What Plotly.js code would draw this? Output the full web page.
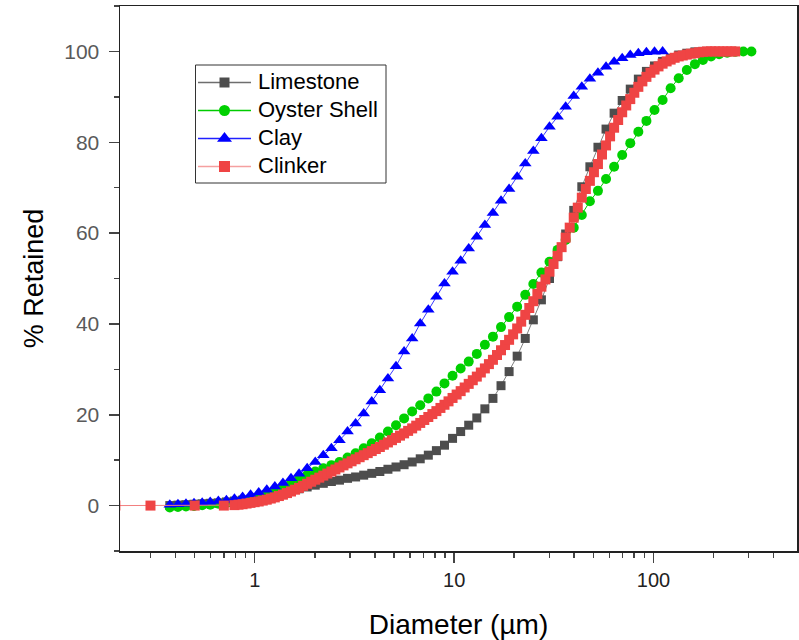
<!DOCTYPE html>
<html>
<head>
<meta charset="utf-8">
<script src="https://cdn.plot.ly/plotly-3.0.1.min.js"></script>
<style>
html,body{margin:0;padding:0;background:#fff;}
#chart{width:799px;height:640px;}
</style>
</head>
<body>
<div id="chart"></div>
<script>
// Shared diameter grid (µm)
var grid = [0.375,0.412,0.452,0.496,0.545,0.598,0.657,0.721,0.791,0.869,0.953,1.047,1.149,1.261,1.385,1.520,1.668,1.832,2.011,2.207,2.423,2.660,2.920,3.205,3.519,3.862,4.240,4.655,5.110,5.610,6.158,6.760,7.421,8.147,8.943,9.817,10.78,11.83,12.99,14.26,15.65,17.18,18.86,20.70,22.73,24.95,27.39,30.07,33.01,36.24,39.78,43.67,47.94,52.62,57.77,63.41,69.61,76.42,83.89,92.09,101.1,111.0,121.8,133.7,146.8,161.2,176.8,194.2,213.2,234.1,256.8,281.9,309.6];

var limestoneX = grid.slice(0, 68);
var limestoneY = [0.0,0.1,0.2,0.3,0.4,0.5,0.6,0.8,1.0,1.2,1.4,1.7,2.1,2.5,2.9,3.3,3.7,4.1,4.5,4.9,5.3,5.6,6.0,6.3,6.7,7.1,7.5,8.0,8.5,9.0,9.6,10.3,11.1,12.1,13.3,14.8,16.3,17.7,19.3,21.3,23.6,26.4,29.5,32.9,36.8,40.9,45.3,50.0,54.8,59.8,65.0,70.2,74.6,78.9,82.9,86.4,89.2,91.7,93.9,95.6,96.8,97.8,98.5,99.2,99.6,99.9,100,100];

var oysterX = grid.slice(0, 73);
var oysterY = [-0.4,-0.3,-0.2,-0.1,0.1,0.2,0.4,0.6,0.9,1.2,1.6,2.1,2.7,3.4,4.2,5.0,5.9,6.7,7.5,8.2,8.9,9.6,10.6,11.5,12.6,13.7,15.0,16.3,17.7,19.2,20.7,22.1,23.6,25.1,26.9,28.6,30.2,31.7,33.4,35.4,37.2,39.3,41.5,43.8,46.4,48.8,51.3,53.7,56.3,58.5,61.2,64.0,67.0,69.3,71.9,74.6,77.2,79.8,82.3,84.7,87.1,89.3,91.9,94.1,95.9,97.2,98.1,98.9,99.4,99.7,99.9,100,100];

var clayX = grid.slice(0, 62);
var clayY = [0.2,0.3,0.4,0.5,0.6,0.8,1.0,1.2,1.5,1.9,2.4,2.9,3.5,4.2,5.0,6.0,7.0,8.2,9.6,11.1,12.6,14.4,16.3,18.1,20.3,22.9,25.4,28.0,30.7,33.9,36.8,40.1,43.1,46.0,48.9,51.5,53.9,56.6,59.2,61.8,64.4,67.1,69.7,72.4,75.3,78.1,80.9,83.4,85.6,87.8,90.2,92.2,94.0,95.3,96.6,97.7,98.5,99.2,99.6,99.8,99.9,100];

// Clinker was measured on a finer grid
var clinkerX = [0.2,0.3,0.5,0.7,
  0.791,0.829,0.869,0.910,0.953,0.999,1.047,1.097,1.149,1.204,1.261,1.322,1.385,1.451,1.520,1.593,1.668,1.748,1.832,1.919,
  2.011,2.107,2.207,2.312,2.423,2.538,2.660,2.787,2.920,3.059,3.205,3.358,3.519,3.687,3.862,4.047,4.240,4.442,4.655,4.877,
  5.110,5.353,5.610,5.877,6.158,6.452,6.760,7.083,7.421,7.775,8.147,8.536,8.943,9.370,9.817,10.29,10.78,11.29,11.83,12.40,
  12.99,13.61,14.26,14.94,15.65,16.40,17.18,18.00,18.86,19.76,20.70,21.69,22.73,23.81,24.95,26.14,27.39,28.70,30.07,31.50,
  33.01,34.58,36.24,37.97,39.78,41.68,43.67,45.75,47.94,50.23,52.62,55.14,57.77,60.53,63.41,66.44,69.61,72.94,76.42,80.07,
  83.89,87.89,92.09,96.49,101.1,105.9,111.0,116.3,121.8,127.6,133.7,140.1,146.8,153.8,161.2,168.9,176.8,185.3,194.2,203.5,
  213.2,223.4,234.1,245.2,256.8];
var clinkerY = [0,0,0,0,
  0.1,0.2,0.3,0.45,0.6,0.75,0.9,1.1,1.3,1.55,1.8,2.1,2.4,2.75,3.1,3.5,3.9,4.35,4.8,5.25,
  5.7,6.15,6.6,7.05,7.5,7.95,8.4,8.85,9.3,9.75,10.2,10.65,11.1,11.55,12.0,12.45,12.9,13.4,13.9,14.4,
  14.9,15.4,15.9,16.45,17.0,17.6,18.2,18.85,19.5,20.15,20.8,21.5,22.2,22.95,23.7,24.45,25.2,26.0,26.8,27.6,
  28.4,29.3,30.2,31.15,32.1,33.15,34.2,35.35,36.5,37.7,39.0,40.5,42.0,43.5,45.0,46.6,48.2,49.8,51.5,53.2,
  55.0,56.9,59.0,61.2,63.4,65.6,67.8,69.7,71.5,73.4,75.2,77.3,79.3,81.3,83.2,84.9,86.6,88.1,89.5,90.9,
  92.2,93.4,94.4,95.3,96.0,96.7,97.3,97.8,98.2,98.6,98.9,99.1,99.3,99.5,99.6,99.8,99.9,100,100,100,
  100,100,100,100,100];

var seriesNames = ['Limestone','Oyster Shell','Clay','Clinker'];
var xTickVals = [1, 10, 100];
var xMinorVals = [0.3,0.4,0.5,0.6,0.7,0.8,0.9,2,3,4,5,6,7,8,9,20,30,40,50,60,70,80,90,200,300,400];

var fontFam = '"Liberation Sans", Arial, sans-serif';

var styles = [
  {line: {color: '#7f7f7f', width: 1}, marker: {symbol: 'square', size: 9, color: '#4d4d4d'}},
  {line: {color: '#00cc00', width: 1}, marker: {symbol: 'circle', size: 10, color: '#00d000'}},
  {line: {color: '#3a3aff', width: 1}, marker: {symbol: 'triangle-up', size: 11, color: '#0000ff'}},
  {line: {color: '#f27f7f', width: 1}, marker: {symbol: 'square', size: 10, color: '#ef4444'}}
];
var dataX = [limestoneX, oysterX, clayX, clinkerX];
var dataY = [limestoneY, oysterY, clayY, clinkerY];

var traces = [];
for (var i = 0; i < 4; i++) {
  traces.push({x: dataX[i], y: dataY[i], name: seriesNames[i], type: 'scatter', mode: 'lines+markers',
    line: styles[i].line, marker: styles[i].marker, showlegend: false, hoverinfo: 'skip'});
}

// Hand-built legend (pixel coordinates on a hidden overlay axis pair)
var legRows = [82.5, 110.5, 138.5, 166.5];
var legLine = [198, 251];
var legMark = 224.5;
var legText = 256;
var legBox = {x0: 195.5, x1: 386, y0: 65, y1: 183};
var legLineColors = ['#6e6e6e', '#00cc00', '#2020ff', '#f5a0a0'];
var legMarkSizes = [10, 11, 13, 11];
var annotations = [];
for (var j = 0; j < 4; j++) {
  traces.push({x: legLine, y: [legRows[j], legRows[j]],
    xaxis: 'x2', yaxis: 'y2', type: 'scatter', mode: 'lines', showlegend: false, hoverinfo: 'skip',
    line: {color: legLineColors[j], width: 1.3}});
  traces.push({x: [legMark], y: [legRows[j]],
    xaxis: 'x2', yaxis: 'y2', type: 'scatter', mode: 'markers', showlegend: false, hoverinfo: 'skip',
    marker: {symbol: styles[j].marker.symbol, color: styles[j].marker.color, size: legMarkSizes[j]}});
  annotations.push({xref: 'x2', yref: 'y2', x: legText, y: legRows[j] - 1, xanchor: 'left', yanchor: 'middle',
    text: seriesNames[j], showarrow: false, font: {family: fontFam, size: 22, color: '#000'}});
}

var layout = {
  width: 799, height: 640,
  margin: {l: 120, r: 2, t: 6, b: 89},
  paper_bgcolor: '#fff', plot_bgcolor: '#fff',
  font: {family: fontFam, color: '#000'},
  showlegend: false,
  annotations: annotations,
  shapes: [{type: 'rect', xref: 'x2', yref: 'y2', x0: legBox.x0, x1: legBox.x1, y0: legBox.y0, y1: legBox.y1,
            line: {color: '#333', width: 1}, fillcolor: '#fff', layer: 'below'}],
  xaxis: {
    type: 'log',
    range: [Math.log10(0.211), Math.log10(524)],
    tickmode: 'array', tickvals: xTickVals, ticktext: ['1','10','100'],
    ticks: 'outside', ticklen: 10, tickwidth: 1.5, tickcolor: '#444',
    minor: {tickmode: 'array', tickvals: xMinorVals, ticks: 'outside', ticklen: 5, tickwidth: 1.5, tickcolor: '#444', showgrid: false},
    showline: true, linecolor: '#222', linewidth: 1.5, mirror: true,
    showgrid: false, zeroline: false,
    tickfont: {family: fontFam, size: 20, color: '#222'},
    title: {text: 'Diameter (µm)', font: {family: fontFam, size: 28, color: '#000'}, standoff: 25},
    automargin: false
  },
  yaxis: {
    range: [-10, 110],
    tickmode: 'linear', tick0: 0, dtick: 20,
    ticks: 'outside', ticklen: 10, tickwidth: 1.5, tickcolor: '#444',
    minor: {dtick: 10, tick0: 0, ticks: 'outside', ticklen: 5, tickwidth: 1.5, tickcolor: '#444', showgrid: false},
    showline: true, linecolor: '#222', linewidth: 1.5, mirror: true,
    showgrid: false, zeroline: false,
    tickfont: {family: fontFam, size: 21, color: '#5a5a5a'},
    ticklabelstandoff: 5,
    title: {text: '% Retained', font: {family: fontFam, size: 27, color: '#000'}, standoff: 13},
    automargin: false
  },
  xaxis2: {overlaying: 'x', anchor: 'y2', range: [120, 797], visible: false, fixedrange: true},
  yaxis2: {overlaying: 'y', anchor: 'x2', range: [551, 6], visible: false, fixedrange: true}
};

Plotly.newPlot('chart', traces, layout, {displayModeBar: false, staticPlot: true});
</script>
</body>
</html>
